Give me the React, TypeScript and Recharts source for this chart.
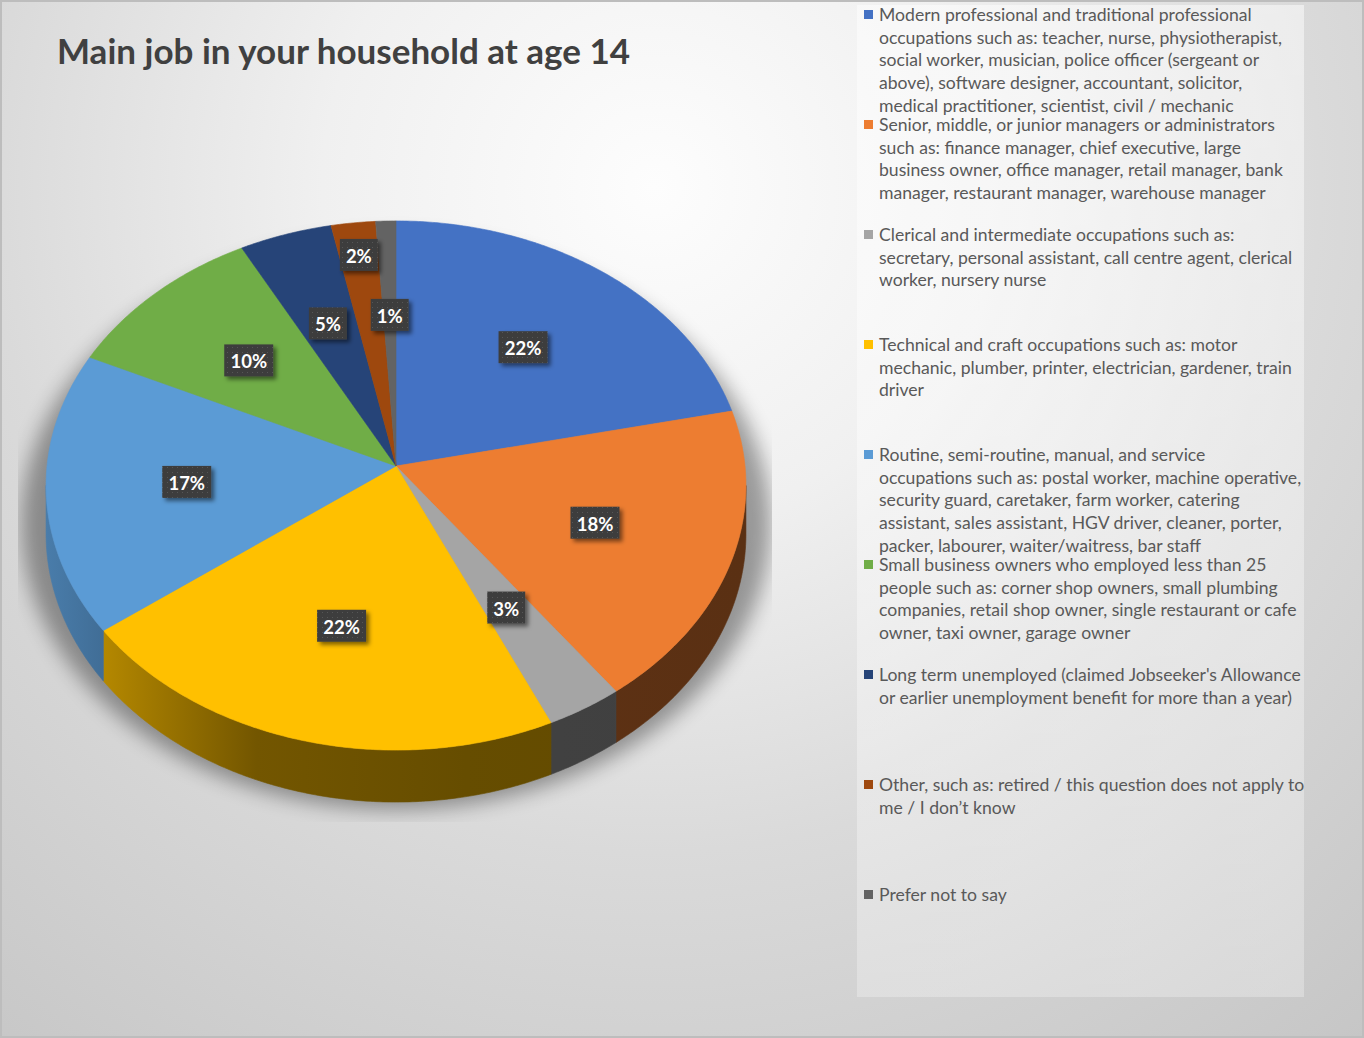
import React from 'react';
import { PieChart, Pie, Legend } from 'recharts';

// legend text, wrapped the way the original legend wraps it
const categories = [
  'Modern professional and traditional professional\noccupations such as: teacher, nurse, physiotherapist,\nsocial worker, musician, police officer (sergeant or\nabove), software designer, accountant, solicitor,\nmedical practitioner, scientist, civil / mechanic',
  'Senior, middle, or junior managers or administrators\nsuch as: finance manager, chief executive, large\nbusiness owner, office manager, retail manager, bank\nmanager, restaurant manager, warehouse manager',
  'Clerical and intermediate occupations such as:\nsecretary, personal assistant, call centre agent, clerical\nworker, nursery nurse',
  'Technical and craft occupations such as: motor\nmechanic, plumber, printer, electrician, gardener, train\ndriver',
  'Routine, semi-routine, manual, and service\noccupations such as: postal worker, machine operative,\nsecurity guard, caretaker, farm worker, catering\nassistant, sales assistant, HGV driver, cleaner, porter,\npacker, labourer, waiter/waitress, bar staff',
  'Small business owners who employed less than 25\npeople such as: corner shop owners, small plumbing\ncompanies, retail shop owner, single restaurant or cafe\nowner, taxi owner, garage owner',
  "Long term unemployed (claimed Jobseeker's Allowance\nor earlier unemployment benefit for more than a year)",
  'Other, such as: retired / this question does not apply to\nme / I don\u2019t know',
  'Prefer not to say',
];

const shares = [21.6, 18.3, 3.3, 21.6, 17.2, 10.2, 4.6, 2.2, 1.0];

const colors = ['#4472C4', '#ED7D31', '#A5A5A5', '#FFC000', '#5B9BD5', '#70AD47', '#264478', '#9E480E', '#636363'];

const title = 'Main job in your household at age 14';

// fake 3d: tilt of the disc, perspective strength, thickness (all relative to radius)
const TILT = 0.754;
const PERSP = 0.0737;
const DEPTH = 0.138;
const FRONT_EDGE = (Math.asin(PERSP) * 180) / Math.PI;

const project = (cx: number, cy: number, R: number, deg: number, r: number) => {
  const a = (deg * Math.PI) / 180;
  const u = Math.cos(a) * r;
  const v = -Math.sin(a) * r;
  const w = 1 - PERSP * v;
  return { x: cx + (R * u) / w, y: cy + (R * TILT * v) / w, w };
};

const arc = (cx: number, cy: number, R: number, from: number, to: number, r: number) => {
  const n = Math.max(2, Math.ceil(Math.abs(from - to) / 0.5) + 1);
  const pts = [];
  for (let i = 0; i < n; i++) pts.push(project(cx, cy, R, from + ((to - from) * i) / (n - 1), r));
  return pts;
};

const shade = (hex: string, f: number) => {
  const n = parseInt(hex.slice(1), 16);
  const c = [(n >> 16) & 255, (n >> 8) & 255, n & 255].map((x) => Math.round(x * f));
  return `rgb(${c[0]},${c[1]},${c[2]})`;
};

const toPath = (pts: { x: number; y: number }[]) =>
  pts.map((p, i) => `${i ? 'L' : 'M'}${p.x.toFixed(2)},${p.y.toFixed(2)}`).join('') + 'Z';

function Slice(props: any) {
  const { cx, cy, outerRadius: R, startAngle, endAngle, index } = props;
  const fill = props.fill && props.fill !== '#808080' ? props.fill : colors[index];
  const top = toPath([{ x: cx, y: cy }, ...arc(cx, cy, R, startAngle, endAngle, 1)]);

  // side wall only where the rim faces the viewer
  const hi = Math.min(startAngle, -FRONT_EDGE);
  const lo = Math.max(endAngle, -180 + FRONT_EDGE);
  let side = '';
  if (hi > lo) {
    const rim = arc(cx, cy, R, hi, lo, 1);
    const bottom = rim.map((p) => ({ x: p.x, y: p.y + (R * DEPTH) / p.w })).reverse();
    side = toPath([...rim, ...bottom]);
  }
  const gid = `side-${index}`;
  return (
    <g>
      <defs>
        <linearGradient id={gid} gradientUnits="userSpaceOnUse" x1={cx - R} x2={cx + R} y1={0} y2={0}>
          <stop offset="0" stopColor={shade(fill, 0.8)} />
          <stop offset="0.3" stopColor={shade(fill, 0.45)} />
          <stop offset="0.6" stopColor={shade(fill, 0.4)} />
          <stop offset="1" stopColor={shade(fill, 0.38)} />
        </linearGradient>
      </defs>
      {side && <path d={side} fill={`url(#${gid})`} stroke={`url(#${gid})`} strokeWidth={0.6} />}
      <path d={top} fill={fill} stroke={fill} strokeWidth={0.6} strokeLinejoin="round" />
    </g>
  );
}

function SliceShadow(props: any) {
  const { cx, cy, outerRadius: R, startAngle, endAngle } = props;
  const pts = arc(cx, cy, R, startAngle, endAngle, 1.07).map((p) => ({ x: p.x, y: p.y + (R * 0.1) / p.w }));
  return <path d={toPath([{ x: cx, y: cy + R * 0.1 }, ...pts])} fill="#000" />;
}

const pctText = (p: number) => `${Math.round(p * 100)}%`;
const boxWidth = (t: string) => 16 + 11 * t.length;
const BOX_H = 32;

// best-fit style placement: labels that would collide are pushed outwards
let layoutCache: { key: string; radii: number[] } | null = null;
const labelRadii = (cx: number, cy: number, R: number) => {
  const key = `${cx}|${cy}|${R}`;
  if (layoutCache && layoutCache.key === key) return layoutCache.radii;
  const total = shares.reduce((a, b) => a + b, 0);
  let cum = 0;
  const mids = shares.map((s) => {
    const m = 90 - (360 * (cum + s / 2)) / total;
    cum += s;
    return m;
  });
  const placed: { x: number; y: number; w: number }[] = [];
  const radii: number[] = new Array(shares.length);
  for (let i = shares.length - 1; i >= 0; i--) {
    const w = boxWidth(pctText(shares[i] / total));
    const hit = (p: { x: number; y: number }) =>
      placed.some((b) => Math.abs(b.x - p.x) < (b.w + w) / 2 + 2 && Math.abs(b.y - p.y) < BOX_H + 2);
    let r = 0.6;
    let p = project(cx, cy, R, mids[i], r);
    if (hit(p)) {
      r = 0.86;
      p = project(cx, cy, R, mids[i], r);
    }
    radii[i] = r;
    placed.push({ x: p.x, y: p.y, w });
  }
  layoutCache = { key, radii };
  return radii;
};

const renderLabel = (props: any) => {
  const { cx, cy, midAngle, outerRadius, percent, index } = props;
  const r = labelRadii(cx, cy, outerRadius)[index];
  const p = project(cx, cy, outerRadius, midAngle, r);
  const text = pctText(percent);
  const w = boxWidth(text);
  return (
    <g key={`lbl-${index}`}>
      <rect x={p.x - w / 2} y={p.y - BOX_H / 2} width={w} height={BOX_H} fill="url(#lblDots)" filter="url(#lblShadow)" />
      <text
        x={p.x}
        y={p.y + 1}
        textAnchor="middle"
        dominantBaseline="central"
        fill="#fff"
        fontFamily="Lato, 'Open Sans', sans-serif"
        fontWeight={700}
        fontSize={18.5}
      >
        {text}
      </text>
    </g>
  );
};

function LegendBox(props: any) {
  const items = (props.payload || [])
    .filter((p: any) => p.type !== 'none' && categories.includes(p.value))
    .sort((a: any, b: any) => categories.indexOf(a.value) - categories.indexOf(b.value))
    .slice(0, categories.length);
  return (
    <div
      style={{
        position: 'relative',
        width: 447,
        height: 992,
        background: 'linear-gradient(180deg, rgba(255,255,255,0.5), rgba(255,255,255,0.28))',
        fontFamily: 'Lato, sans-serif',
        fontSize: 17.6,
        color: '#595959',
      }}
    >
      {items.map((item: any, i: number) => (
        <div key={i} style={{ position: 'absolute', left: 0, top: i * 110 - 1, width: 447 }}>
          <span
            style={{
              position: 'absolute',
              left: 7,
              top: 6,
              width: 9,
              height: 9,
              background: colors[categories.indexOf(item.value)] || item.color,
            }}
          />
          <div style={{ position: 'absolute', left: 22, top: 0, whiteSpace: 'pre', lineHeight: '22.7px' }}>
            {item.value}
          </div>
        </div>
      ))}
    </div>
  );
}

export default function App() {
  const data = categories.map((name, i) => ({ name, value: shares[i], fill: colors[i] }));
  return (
    <div
      style={{
        position: 'relative',
        width: 1364,
        height: 1038,
        overflow: 'hidden',
        background:
          'radial-gradient(circle farthest-corner at 48% 18%, #fdfdfd 0%, #f0f0f0 30%, #dadada 60%, #c6c6c6 100%)',
        boxShadow: 'inset 0 0 0 2px #bdbdbd',
      }}
    >
      <style>{`body{margin:0} .pie-shadow{filter:url(#pieBlur);opacity:0.36;clip-path:url(#plotClip)}`}</style>
      <svg width={0} height={0} style={{ position: 'absolute' }}>
        <defs>
          <filter id="pieBlur" x="-20%" y="-20%" width="140%" height="140%">
            <feGaussianBlur stdDeviation="10" />
          </filter>
          <clipPath id="plotClip" clipPathUnits="userSpaceOnUse">
            <rect x={18} y={0} width={754} height={822} />
          </clipPath>
          <filter id="lblShadow" x="-30%" y="-30%" width="170%" height="170%">
            <feDropShadow dx="3" dy="3" stdDeviation="2" floodColor="#000" floodOpacity="0.5" />
          </filter>
          <pattern id="lblDots" width="5" height="5" patternUnits="userSpaceOnUse">
            <rect width="5" height="5" fill="#3e3e3e" />
            <rect x="2" y="2" width="1" height="1" fill="#575757" />
          </pattern>
        </defs>
      </svg>
      <div
        style={{
          position: 'absolute',
          left: 57,
          top: 30,
          fontFamily: 'Lato, sans-serif',
          fontWeight: 700,
          fontSize: 35,
          lineHeight: '40px',
          color: '#404040',
          whiteSpace: 'nowrap',
        }}
      >
        {title}
      </div>
      <PieChart width={1364} height={1038} margin={{ top: 0, right: 0, bottom: 0, left: 0 }}>
        <Pie
          className="pie-shadow"
          data={data}
          dataKey="value"
          nameKey="name"
          cx={396}
          cy={466}
          outerRadius={349}
          startAngle={90}
          endAngle={-270}
          stroke="none"
          legendType="none"
          isAnimationActive={false}
          shape={SliceShadow}
          inactiveShape={SliceShadow}
          activeShape={SliceShadow}
        />
        <Pie
          data={data}
          dataKey="value"
          nameKey="name"
          cx={396}
          cy={466}
          outerRadius={349}
          startAngle={90}
          endAngle={-270}
          stroke="none"
          isAnimationActive={false}
          shape={Slice}
          inactiveShape={Slice}
          activeShape={Slice}
          label={renderLabel}
          labelLine={false}
        />
        <Legend
          layout="vertical"
          align="right"
          verticalAlign="top"
          content={LegendBox}
          wrapperStyle={{ left: 857, top: 5, width: 447, height: 992 }}
        />
      </PieChart>
    </div>
  );
}
